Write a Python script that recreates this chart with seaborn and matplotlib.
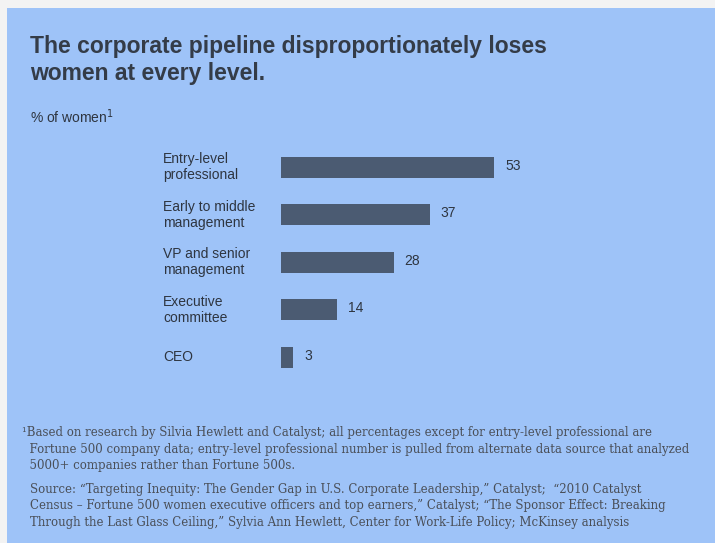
import matplotlib
matplotlib.use('Agg')
import matplotlib.pyplot as plt
import matplotlib.transforms as mtransforms
from matplotlib.patches import Rectangle
import seaborn as sns
import pandas as pd

# data
categories = ['Entry-level\nprofessional', 'Early to middle\nmanagement',
              'VP and senior\nmanagement', 'Executive\ncommittee', 'CEO']
values = [53, 37, 28, 14, 3]

title_lines = 'The corporate pipeline disproportionately loses\nwomen at every level.'
footnote = ('\u00b9Based on research by Silvia Hewlett and Catalyst; all percentages except for entry-level professional are\n'
            '  Fortune 500 company data; entry-level professional number is pulled from alternate data source that analyzed\n'
            '  5000+ companies rather than Fortune 500s.')
source = ('Source: \u201cTargeting Inequity: The Gender Gap in U.S. Corporate Leadership,\u201d Catalyst;  \u201c2010 Catalyst\n'
          'Census \u2013 Fortune 500 women executive officers and top earners,\u201d Catalyst; \u201cThe Sponsor Effect: Breaking\n'
          'Through the Last Glass Ceiling,\u201d Sylvia Ann Hewlett, Center for Work-Life Policy; McKinsey analysis')

bg_blue = '#9ec3f8'
bar_color = '#4b5b72'
text_dark = '#2e3540'

sns.set_theme(style='white')
plt.rcParams['font.family'] = ['Liberation Sans', 'DejaVu Sans']

df = pd.DataFrame({'level': categories, 'pct': values})

W, H = 715, 543
fig = plt.figure(figsize=(W / 100, H / 100), dpi=100)
fig.patch.set_facecolor('#f3f3f3')
fig.patches.append(Rectangle((7 / W, 0), 1 - 7 / W, 1 - 8 / H, transform=fig.transFigure,
                             facecolor=bg_blue, edgecolor='none', zorder=-10))

# axes: bars start at x=281px, 53 units ~ 213px
ax_left, ax_w = 281 / W, 320 / W
ax = fig.add_axes([ax_left, 1 - 381 / H, ax_w, 237.5 / H])
ax.set_zorder(5)
ax.patch.set_visible(False)
sns.barplot(data=df, x='pct', y='level', orient='h', color=bar_color,
            width=0.44, saturation=1, linewidth=0, edgecolor='none', ax=ax)
ax.set_xlim(0, 320 / (213 / 53))
ax.set_ylim(4.5, -0.5)
for s in ax.spines.values():
    s.set_visible(False)
ax.set_xticks([])
ax.set_yticks([])
ax.set_xlabel('')
ax.set_ylabel('')

# value labels
for i, v in enumerate(values):
    ax.annotate(str(v), xy=(v, i), xytext=(8, 1), textcoords='offset points',
                va='center', ha='left', fontsize=10, color=text_dark)

# category labels, left aligned at x=163px
trans = mtransforms.blended_transform_factory(fig.transFigure, ax.transData)
for i, c in enumerate(categories):
    ax.text(163 / W, i, c, transform=trans, ha='left', va='center',
            fontsize=10, color=text_dark, linespacing=1.2, clip_on=False)

# title and unit label
fig.text(30 / W, 1 - 35 / H, title_lines, ha='left', va='top', fontsize=16.5,
         fontweight='bold', color='#343c48', linespacing=1.2)
fig.text(30 / W, 1 - 117 / H, '% of women$^{1}$', ha='left', va='center',
         fontsize=10, color=text_dark)

# footnotes
serif = ['DejaVu Serif']
fig.text(22 / W, 1 - 426 / H, footnote, ha='left', va='top', fontsize=8.5,
         family=serif, color='#4a4f58', linespacing=1.35)
fig.text(30 / W, 1 - 483 / H, source, ha='left', va='top', fontsize=8.5,
         family=serif, color='#4a4f58', linespacing=1.35)

fig.savefig('out.png', dpi=100, facecolor=fig.get_facecolor())
